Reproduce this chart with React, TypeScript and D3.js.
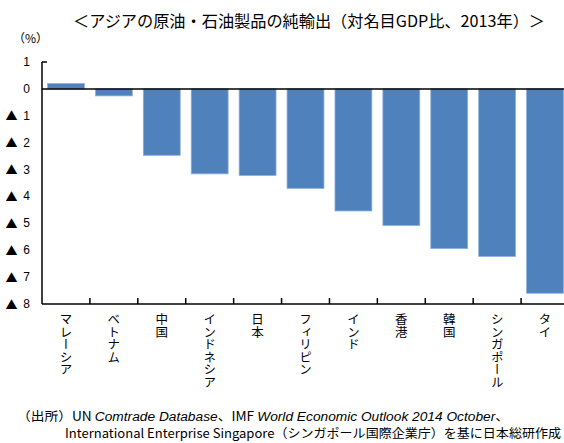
import React from "react";
import * as d3 from "d3";

const categories = ["マレーシア", "ベトナム", "中国", "インドネシア", "日本", "フィリピン", "インド", "香港", "韓国", "シンガポール", "タイ"];
const values = [0.2, -0.26, -2.47, -3.16, -3.22, -3.7, -4.54, -5.08, -5.94, -6.23, -7.6];
const yTicks = [1, 0, -1, -2, -3, -4, -5, -6, -7, -8];
const title = "＜アジアの原油・石油製品の純輸出（対名目GDP比、2013年）＞";
const unitLabel = "（%）";
const sourceLine2 = "International Enterprise Singapore（シンガポール国際企業庁）を基に日本総研作成";

const W = 564;
const H = 443;
const JP = "'Noto Sans CJK JP', 'Liberation Sans', sans-serif";
const NUM = "'Liberation Sans', Arial, sans-serif";

export default function App() {
  const x = d3.scaleBand<string>().domain(categories).range([42, 569]).paddingInner(0.23).paddingOuter(0.115);
  const y = d3.scaleLinear().domain([-8, 1]).range([304, 62]);
  const y0 = y(0);
  const step = x.step();
  const x0 = 42;

  return (
    <svg width={W} height={H} style={{ position: "absolute", left: 0, top: 0, background: "#fff" }}>
      <text x={73} y={27} fontFamily={JP} fontSize={16} textLength={472} lengthAdjust="spacingAndGlyphs" fill="#000">{title}</text>
      <text x={13} y={43} fontFamily={JP} fontSize={12} fill="#000">{unitLabel}</text>

      {categories.map((c, i) => {
        const v = values[i];
        const top = Math.min(y(v), y0);
        const h = Math.abs(y(v) - y0);
        return <rect key={c} x={x(c)} y={top} width={x.bandwidth()} height={h} fill="#4F81BD" stroke="#8DB0DB" strokeWidth={0.8} />;
      })}

      <line x1={x0} x2={x0} y1={y(1)} y2={y(-8)} stroke="#000" strokeWidth={1.5} />
      <line x1={x0} x2={x0 + 5} y1={y(1)} y2={y(1)} stroke="#000" strokeWidth={1.5} />
      <line x1={x0} x2={W} y1={y0} y2={y0} stroke="#000" strokeWidth={1.5} />
      <line x1={x0} x2={W} y1={y(-8)} y2={y(-8)} stroke="#000" strokeWidth={1.5} />
      {categories.slice(1).map((c, i) => {
        const xx = x0 + step * (i + 1);
        return <line key={"t" + c} x1={xx} x2={xx} y1={y(-8)} y2={y(-8) - 6} stroke="#000" strokeWidth={1.5} />;
      })}

      {yTicks.map((t) => (
        <g key={"yl" + t}>
          {t < 0 && (
            <text x={11.5} y={y(t)} fontFamily={JP} fontSize={12} textAnchor="middle" dominantBaseline="central" fill="#000">▲</text>
          )}
          <text x={30} y={y(t)} fontFamily={NUM} fontSize={12} textAnchor="end" dominantBaseline="central" fill="#000">{Math.abs(t)}</text>
        </g>
      ))}

      {categories.map((c) => (
        <text
          key={"xl" + c}
          x={(x(c) as number) + x.bandwidth() / 2}
          y={313}
          fontFamily={JP}
          fontSize={12.5}
          fill="#000"
          style={{ writingMode: "vertical-rl", textOrientation: "upright" } as any}
        >
          {c}
        </text>
      ))}

      <text x={17} y={421} fontFamily={JP} fontSize={12.5} fill="#000" textLength={492} lengthAdjust="spacingAndGlyphs">
        （出所）UN <tspan fontStyle="italic" fontFamily={NUM}>Comtrade Database</tspan>、IMF <tspan fontStyle="italic" fontFamily={NUM}>World Economic Outlook 2014 October</tspan>、
      </text>
      <text x={65} y={438} fontFamily={JP} fontSize={12.5} fill="#000" textLength={496} lengthAdjust="spacingAndGlyphs">
        {sourceLine2}
      </text>
    </svg>
  );
}
